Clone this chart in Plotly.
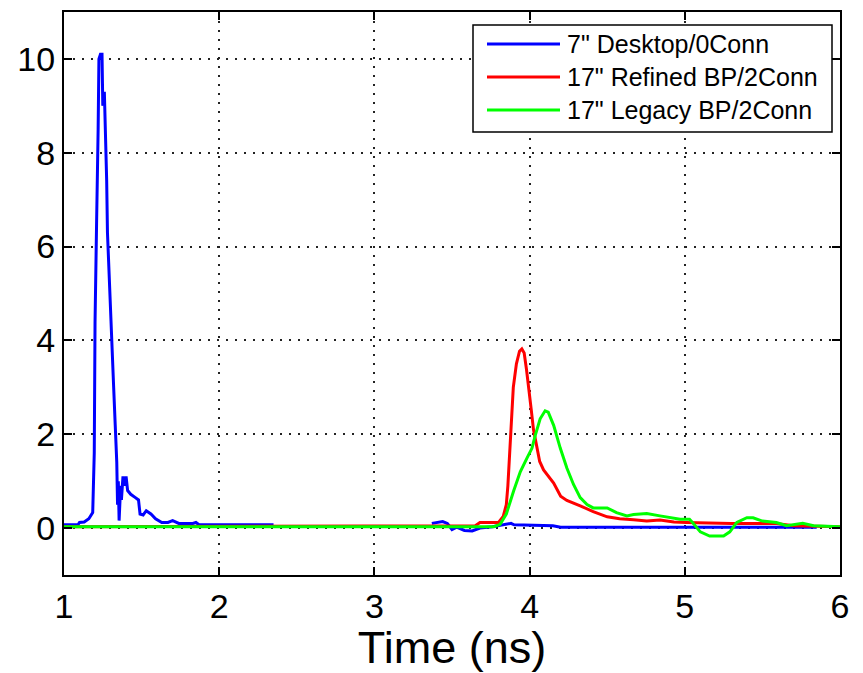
import plotly.graph_objects as go

# ---- data ----
blue_x = [1.0, 1.09, 1.10, 1.13, 1.16, 1.185, 1.195, 1.20, 1.21, 1.215, 1.22, 1.225, 1.235, 1.245,
          1.25, 1.26, 1.27, 1.275, 1.28, 1.29, 1.30, 1.31, 1.32, 1.33, 1.34, 1.345, 1.35, 1.355,
          1.365, 1.37, 1.38, 1.39, 1.40, 1.41, 1.43, 1.46, 1.48, 1.49, 1.51, 1.53, 1.56, 1.59,
          1.63, 1.67, 1.70, 1.74, 1.83, 1.85, 1.87, 2.35,
          None,
          3.37, 3.44, 3.47, 3.50, 3.53, 3.58, 3.63, 3.68, 3.76, 3.84, 3.88, 3.90, 4.15, 4.20, 5.85]
blue_y = [0.07, 0.07, 0.12, 0.13, 0.20, 0.33, 1.6, 4.4, 6.5, 8.3, 8.5, 10.0, 10.1, 10.1,
          9.0, 9.3, 8.1, 7.4, 6.3, 5.4, 4.4, 3.8, 3.0, 2.2, 1.4, 0.5, 1.0, 0.16,
          0.9, 0.6, 1.1, 0.9, 1.1, 0.8, 0.72, 0.65, 0.6, 0.3, 0.28, 0.37, 0.3, 0.2,
          0.12, 0.12, 0.16, 0.1, 0.1, 0.12, 0.07, 0.07,
          None,
          0.10, 0.14, 0.10, -0.03, 0.02, -0.05, -0.06, 0.0, 0.03, 0.08, 0.10, 0.07, 0.05, 0.02, 0.02]

red_x = [1.0, 3.65, 3.68, 3.80, 3.83, 3.85, 3.86, 3.87, 3.88, 3.895, 3.915, 3.935, 3.95, 3.965,
         3.98, 3.995, 4.01, 4.025, 4.045, 4.065, 4.09, 4.12, 4.155, 4.20, 4.24, 4.33, 4.41, 4.50,
         4.58, 4.67, 4.755, 4.84, 4.93, 5.01, 5.30, 5.59, 5.70, 6.0]
red_y = [0.03, 0.05, 0.12, 0.12, 0.25, 0.5, 0.9, 1.5, 2.1, 3.0, 3.5, 3.77, 3.82, 3.73,
         3.38, 3.0, 2.54, 2.1, 1.77, 1.42, 1.24, 1.1, 0.96, 0.68, 0.59, 0.47, 0.35, 0.24,
         0.2, 0.18, 0.15, 0.17, 0.13, 0.12, 0.1, 0.1, 0.05, 0.03]

green_x = [1.0, 3.77, 3.81, 3.85, 3.897, 3.94, 3.983, 4.015, 4.037, 4.068, 4.10, 4.12, 4.155,
           4.198, 4.24, 4.283, 4.326, 4.37, 4.41, 4.50, 4.56, 4.627, 4.67, 4.755, 4.84, 4.905,
           4.97, 5.03, 5.05, 5.10, 5.16, 5.25, 5.29, 5.335, 5.40, 5.44, 5.50, 5.59, 5.655,
           5.76, 5.83, 6.0]
green_y = [0.03, 0.03, 0.08, 0.3, 0.79, 1.2, 1.49, 1.7, 1.98, 2.33, 2.5, 2.47, 2.19,
           1.7, 1.28, 0.93, 0.65, 0.5, 0.43, 0.43, 0.33, 0.26, 0.29, 0.31, 0.26, 0.22,
           0.19, 0.19, 0.12, -0.08, -0.17, -0.17, -0.08, 0.12, 0.22, 0.22, 0.15, 0.12, 0.05,
           0.1, 0.05, 0.03]

series_names = ['7" Desktop/0Conn', '17" Refined BP/2Conn', '17" Legacy BP/2Conn']
series_colors = ["#0000ff", "#ff0000", "#00ff00"]

x_ticks = [1, 2, 3, 4, 5, 6]
y_ticks = [0, 2, 4, 6, 8, 10]

FONT = "Liberation Sans, Arial, Helvetica, sans-serif"

# page offset of plotly div (default body margin)
OFF = 8
PLOT_L, PLOT_R, PLOT_T, PLOT_B = 64, 840, 12, 575


def px(xp):
    return (xp - PLOT_L) / (PLOT_R - PLOT_L)


def py(yp):
    return (PLOT_B - yp) / (PLOT_B - PLOT_T)


fig = go.Figure()
for xs, ys, name, col in zip([blue_x, red_x, green_x], [blue_y, red_y, green_y],
                             series_names, series_colors):
    fig.add_trace(go.Scatter(x=xs, y=ys, mode="lines", name=name, showlegend=False,
                             line=dict(color=col, width=3), connectgaps=False))

axis_common = dict(
    showline=True, linecolor="black", linewidth=2, mirror="ticks",
    ticks="inside", ticklen=8, tickwidth=2, tickcolor="black",
    showgrid=True, gridcolor="#222222", gridwidth=1.5, griddash="2px,7px",
    zeroline=False, automargin=False,
    tickfont=dict(family=FONT, size=34, color="black"),
)

# manual legend (box, line samples, labels)
shapes = [dict(type="rect", xref="paper", yref="paper",
               x0=px(473), x1=px(832), y0=py(132), y1=py(25),
               line=dict(color="black", width=1.5), fillcolor="white", layer="above")]
annotations = []
row_y = [44, 77, 110]
for ry, name, col in zip(row_y, series_names, series_colors):
    shapes.append(dict(type="line", xref="paper", yref="paper",
                       x0=px(487), x1=px(560), y0=py(ry), y1=py(ry),
                       line=dict(color=col, width=3), layer="above"))
    annotations.append(dict(xref="paper", yref="paper", x=px(565), y=py(ry),
                            xanchor="left", yanchor="middle", showarrow=False,
                            text=name, font=dict(family=FONT, size=25, color="black")))

fig.update_layout(
    width=863 - OFF, height=673 - OFF,
    margin=dict(l=PLOT_L - OFF, r=863 - PLOT_R, t=PLOT_T - OFF, b=673 - PLOT_B),
    paper_bgcolor="white", plot_bgcolor="white",
    font=dict(family=FONT, color="black"),
    xaxis=dict(range=[1, 6], tickvals=x_ticks, ticktext=[str(v) for v in x_ticks],
               title=dict(text="Time (ns)", font=dict(family=FONT, size=45, color="black"),
                          standoff=2),
               **axis_common),
    yaxis=dict(range=[-1, 11], tickvals=y_ticks, ticktext=[str(v) for v in y_ticks],
               **axis_common),
    shapes=shapes,
    annotations=annotations,
    showlegend=False,
)

fig.write_html("out.html")
